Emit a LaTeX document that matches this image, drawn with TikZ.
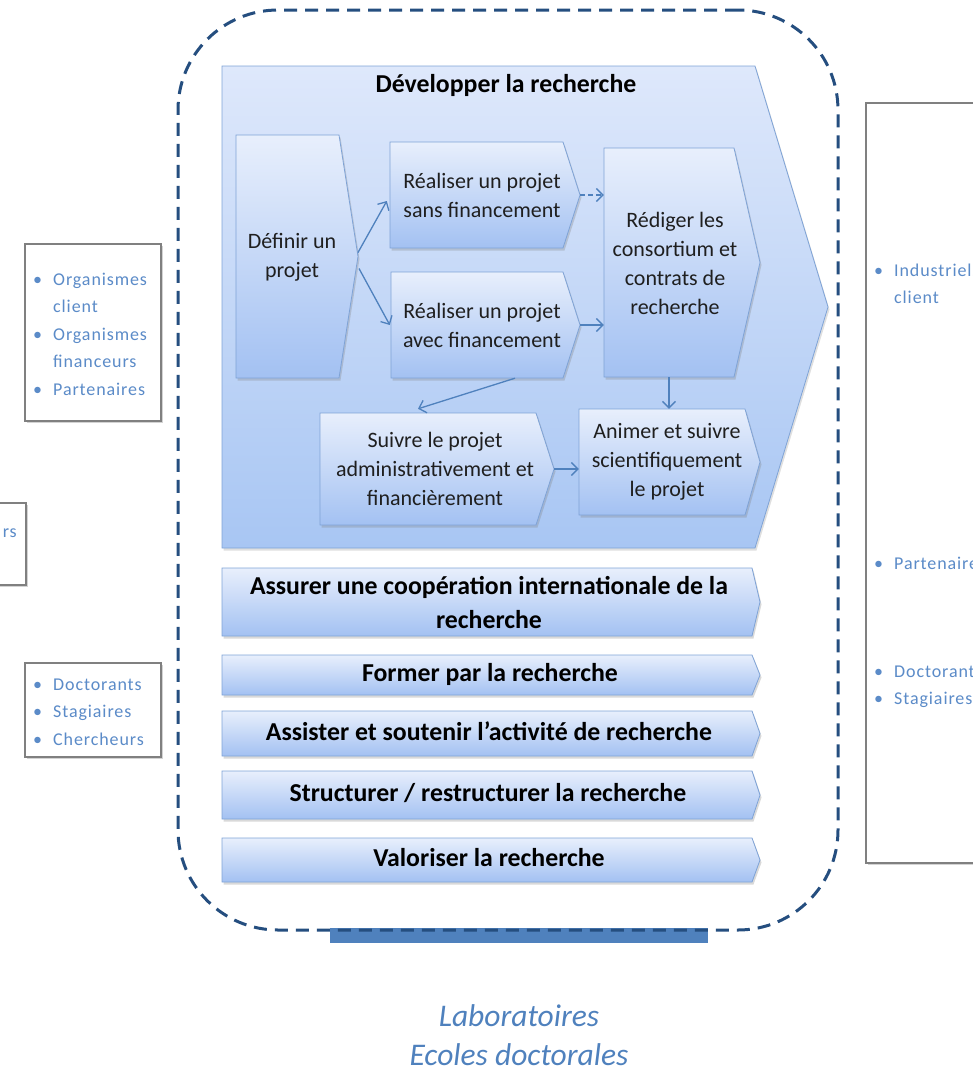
\documentclass[tikz,border=0pt]{standalone}
\usepackage{fontspec}
\setmainfont{Carlito}
\usetikzlibrary{arrows.meta,shadows}
\definecolor{navy}{HTML}{254E7F}
\definecolor{accent}{HTML}{4F81BD}
\definecolor{edge}{HTML}{7FA3D6}
\definecolor{shTop}{HTML}{E8EFFC}
\definecolor{shBot}{HTML}{A3C1F2}
\definecolor{bigTop}{HTML}{DEE8FB}
\definecolor{bigBot}{HTML}{A8C6F3}
\definecolor{bulletc}{HTML}{5B8BC8}
\definecolor{framec}{HTML}{808080}

\newcommand\chev[7]{%
  \path[#7] (#2,#3) -- (#4,#3) -- (#5,{(#3+#6)/2}) -- (#4,#6) -- (#2,#6) -- cycle;
  \node[inner sep=0pt, minimum width={(#4-#2)*1pt}, minimum height={(#6-#3)*1pt}] (#1) at ({(#2+#4)/2},{(#3+#6)/2}) {};
  \coordinate (#1-tip) at (#5,{(#3+#6)/2});
}
\newcommand\bul{\makebox[20pt][l]{•}}
\newcommand\ind{\hspace*{20pt}}

\tikzset{
  box/.style={draw=edge, line width=0.8pt, top color=shTop, bottom color=shBot,
    drop shadow={shadow xshift=1.5pt, shadow yshift=-2.5pt, opacity=0.3}},
  bigbox/.style={draw=edge, line width=0.8pt, top color=bigTop, bottom color=bigBot,
    drop shadow={shadow xshift=1.5pt, shadow yshift=-2.5pt, opacity=0.25}},
  txt/.style={font=\fontsize{22}{29}\selectfont, align=center, text=black!88, inner sep=0pt},
  btxt/.style={font=\fontsize{25.8}{34}\selectfont\bfseries, align=center, text=black, inner sep=0pt},
  arr/.style={draw=accent, line width=1.3pt, -{Straight Barb[length=6.5pt,width=13pt]}},
  lbox/.style={draw=framec, line width=2.5pt, fill=white, inner sep=0pt,
    drop shadow={shadow xshift=1.5pt, shadow yshift=-1.5pt, opacity=0.35}},
  blist/.style={font=\fontsize{18}{27.5}\selectfont\addfontfeature{LetterSpace=5}, text=bulletc, inner sep=0pt},
}

\begin{document}
\begin{tikzpicture}[x=1pt, y=-1pt]
\useasboundingbox (0,0) rectangle (973,1069);

% outer boxes
\node[lbox, minimum width=136pt, minimum height=177pt] (cl1) at (93,332.5) {};
\node[blist, anchor=base west] (cl1-t) at (33,285) {\begin{tabular}[t]{@{}l@{}}\bul Organismes\\\ind client\\\bul Organismes\\\ind financeurs\\\bul Partenaires\end{tabular}};
\node[lbox, minimum width=40pt, minimum height=82pt] (cl2) at (6,544) {};
\node[blist, anchor=base east] (cl2-t) at (17,537) {rs};
\node[lbox, minimum width=136pt, minimum height=94pt] (cl3) at (93,710) {};
\node[blist, anchor=base west] (cl3-t) at (33,690) {\begin{tabular}[t]{@{}l@{}}\bul Doctorants\\\bul Stagiaires\\\bul Chercheurs\end{tabular}};
\node[lbox, minimum width=130pt, minimum height=760pt] (cr) at (931,483) {};
\node[blist, anchor=base west] (cr-t1) at (874,276) {\begin{tabular}[t]{@{}l@{}}\bul Industriels\\\ind client\end{tabular}};
\node[blist, anchor=base west] (cr-t2) at (874,569) {\bul Partenaires};
\node[blist, anchor=base west] (cr-t3) at (874,677) {\begin{tabular}[t]{@{}l@{}}\bul Doctorants\\\bul Stagiaires\end{tabular}};

% bottom bar and dashed frame
\node[fill=accent, minimum width=378pt, minimum height=15pt, inner sep=0pt] (bar) at (519,935) {};
\node[draw=navy, line width=3pt, dash pattern=on 13pt off 8pt, rounded corners=100pt,
  minimum width=660pt, minimum height=920pt, inner sep=0pt] (frame) at (508,470) {};

% big process
\chev{big}{222}{66}{755}{828}{548}{bigbox}
\node[btxt] (big-t) at (506,85) {Développer la recherche};

\chev{def}{236}{135}{339}{358}{378}{box}
\node[txt] (def-t) at (292,257) {Définir un\\projet};
\chev{sans}{390}{142}{563}{580}{248}{box}
\node[txt] (sans-t) at (482,195.5) {Réaliser un projet\\sans financement};
\chev{avec}{391}{272}{563}{580}{378}{box}
\node[txt] (avec-t) at (482,325.5) {Réaliser un projet\\avec financement};
\chev{red}{604}{148}{734}{760}{377}{box}
\node[txt] (red-t) at (675,263) {Rédiger les\\consortium et\\contrats de\\recherche};
\chev{suiv}{320}{413}{536}{554}{525}{box}
\node[txt] (suiv-t) at (435,469) {Suivre le projet\\administrativement et\\financièrement};
\chev{anim}{579}{409}{745}{760}{515}{box}
\node[txt] (anim-t) at (667,462) {Animer et suivre\\scientifiquement\\le projet};

% arrows
\draw[arr] ([yshift=4pt]def-tip) -- ([shift={(-3pt,-6pt)}]sans.west);
\draw[arr] ([shift={(1pt,-12pt)}]def-tip) -- ([xshift=-1pt]avec.west);
\draw[arr, dash pattern=on 5pt off 3pt] (sans-tip) -- (red.west |- sans-tip);
\draw[arr] (avec-tip) -- (red.west |- avec-tip);
\draw[arr] ([xshift=38pt]avec.south) -- ([shift={(-10pt,4pt)}]suiv.north);
\draw[arr] (red.south) -- (red.south |- anim.north);
\draw[arr] (suiv-tip) -- (anim.west |- suiv-tip);

% other processes
\chev{coop}{222}{568}{752}{760}{636}{box}
\node[btxt] (coop-t) at (489,603) {Assurer une coopération internationale de la\\recherche};
\chev{form}{222}{655}{752}{760}{695}{box}
\node[btxt] (form-t) at (490,674) {Former par la recherche};
\chev{assist}{222}{711}{752}{760}{756}{box}
\node[btxt] (assist-t) at (489,731) {Assister et soutenir l’activité de recherche};
\chev{struct}{222}{771}{752}{760}{819}{box}
\node[btxt] (struct-t) at (488,793) {Structurer / restructurer la recherche};
\chev{valo}{222}{838}{752}{760}{882}{box}
\node[btxt] (valo-t) at (489,858) {Valoriser la recherche};

% caption
\node[font=\fontsize{31.5}{39}\selectfont\itshape, text=accent, align=center, inner sep=0pt] (lab) at (519,1035) {Laboratoires\\Ecoles doctorales};
\end{tikzpicture}
\end{document}
